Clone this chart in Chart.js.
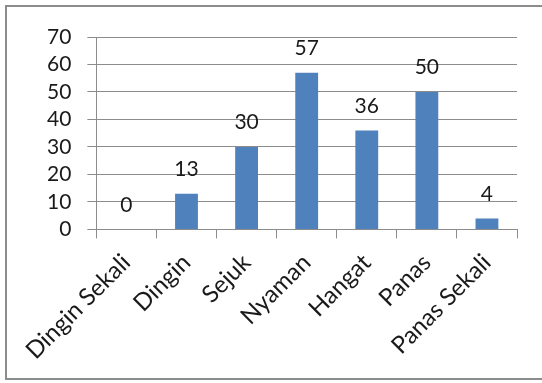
<!DOCTYPE html>
<html>
<head>
<meta charset="utf-8">
<script src="https://cdn.jsdelivr.net/npm/chart.js@4"></script>
<style>
  body { margin: 0; background: #fff; }
  #wrap { position: absolute; left: 0; top: 0; width: 542px; height: 383px; }
  #frame { position: absolute; left: 5px; top: 5px; width: 537px; height: 375px;
           border: 2px solid #8c8c8c; border-right: none; box-sizing: border-box; }
</style>
</head>
<body>
<div id="wrap">
  <div id="frame"></div>
  <canvas id="myChart" width="542" height="383"></canvas>
</div>
<script>
  var categories = ['Dingin Sekali', 'Dingin', 'Sejuk', 'Nyaman', 'Hangat', 'Panas', 'Panas Sekali'];
  var values = [0, 13, 30, 57, 36, 50, 4];
  var yTicks = [0, 10, 20, 30, 40, 50, 60, 70];

  var fontFamily = 'Lato, "Open Sans", sans-serif';

  // labels boven de staven
  var valueLabels = {
    id: 'valueLabels',
    afterDatasetsDraw: function (chart) {
      var ctx = chart.ctx;
      var meta = chart.getDatasetMeta(0);
      ctx.save();
      ctx.font = '21px ' + fontFamily;
      ctx.fillStyle = '#1a1a1a';
      ctx.textAlign = 'center';
      ctx.textBaseline = 'bottom';
      meta.data.forEach(function (bar, i) {
        ctx.fillText(String(values[i]), bar.x, bar.y - 14);
      });
      ctx.restore();
    }
  };

  var ctx = document.getElementById('myChart').getContext('2d');
  var chart = new Chart(ctx, {
    type: 'bar',
    data: {
      labels: categories,
      datasets: [{
        data: values,
        backgroundColor: '#4f81bd',
        barPercentage: 0.38,
        categoryPercentage: 1
      }]
    },
    options: {
      responsive: false,
      animation: false,
      layout: { padding: { top: 37, right: 25, left: 31, bottom: 8 } },
      plugins: { legend: { display: false }, tooltip: { enabled: false } },
      scales: {
        x: {
          grid: { offset: true, drawOnChartArea: false, color: '#8c8c8c', tickLength: 9 },
          border: { color: '#8c8c8c' },
          ticks: {
            maxRotation: 45, minRotation: 45, autoSkip: false,
            color: '#1a1a1a', padding: 10,
            font: { family: fontFamily, size: 24 }
          }
        },
        y: {
          min: 0, max: 70,
          afterBuildTicks: function (axis) {
            axis.ticks = yTicks.map(function (v) { return { value: v }; });
          },
          grid: { color: '#8c8c8c', tickLength: 9 },
          border: { color: '#8c8c8c' },
          ticks: {
            autoSkip: false,
            color: '#1a1a1a', padding: 16,
            font: { family: fontFamily, size: 21 }
          }
        }
      }
    },
    plugins: [valueLabels]
  });
</script>
</body>
</html>
